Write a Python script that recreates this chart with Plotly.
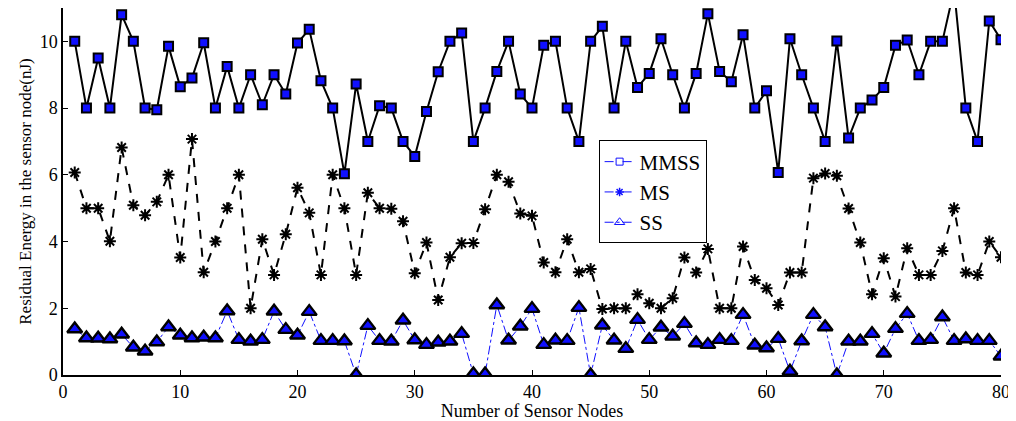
import plotly.graph_objects as go

nodes = list(range(1, 81))

mmss = [10.0, 8.0, 9.5, 8.0, 10.8, 10.0, 8.0, 7.95, 9.85, 8.64,
        8.9, 9.96, 8.0, 9.25, 8.0, 9.0, 8.1, 9.0, 8.42, 9.95,
        10.36, 8.82, 8.0, 6.03, 8.72, 7.0, 8.07, 8.0, 7.0, 6.55,
        7.9, 9.09, 10.0, 10.25, 7.0, 8.0, 9.1, 10.0, 8.42, 8.0,
        9.88, 10.0, 8.0, 7.0, 10.0, 10.45, 8.0, 10.0, 8.62, 9.04,
        10.08, 9.0, 8.0, 9.04, 10.83, 9.1, 8.79, 10.2, 8.0, 8.52,
        6.07, 10.08, 9.0, 8.0, 7.0, 10.01, 7.1, 8.0, 8.24, 8.62,
        9.88, 10.04, 9.0, 10.0, 10.0, 11.55, 8.0, 7.0, 10.61, 10.05]

ms = [6.07, 5.0, 5.0, 4.01, 6.82, 5.09, 4.79, 5.19, 6.0, 3.52,
      7.07, 3.08, 4.0, 5.0, 6.0, 2.0, 4.07, 3.0, 4.22, 5.61,
      4.86, 3.0, 6.0, 5.0, 3.0, 5.46, 5.0, 4.98, 4.61, 3.05,
      3.97, 2.25, 3.53, 3.95, 3.96, 4.97, 6.0, 5.79, 4.84, 4.77,
      3.37, 3.08, 4.07, 3.08, 3.18, 1.98, 2.0, 2.0, 2.42, 2.15,
      2.0, 2.3, 3.52, 3.07, 3.78, 2.0, 2.0, 3.85, 2.85, 2.6,
      2.1, 3.07, 3.07, 5.9, 6.04, 5.97, 4.99, 3.97, 2.42, 3.5,
      2.35, 3.8, 3.0, 3.0, 3.72, 5.0, 3.07, 3.0, 4.0, 3.53]

ss = [1.38, 1.11, 1.1, 1.08, 1.22, 0.83, 0.71, 0.99, 1.44, 1.19,
      1.11, 1.13, 1.11, 1.92, 1.06, 1.01, 1.06, 1.91, 1.36, 1.19,
      1.9, 1.03, 1.03, 1.02, 0.0, 1.48, 1.03, 1.01, 1.64, 1.05,
      0.91, 0.98, 1.01, 1.24, 0.03, 0.03, 2.1, 1.04, 1.46, 1.99,
      0.91, 1.04, 1.03, 2.02, 0.0, 1.49, 1.04, 0.79, 1.66, 1.06,
      1.43, 1.16, 1.54, 0.96, 0.91, 1.06, 1.03, 1.81, 0.89, 0.81,
      1.09, 0.11, 1.02, 1.81, 1.44, 0.0, 1.01, 1.01, 1.24, 0.65,
      1.39, 1.84, 1.03, 1.06, 1.74, 1.03, 1.08, 1.03, 1.03, 0.56]

x_ticks = [0, 10, 20, 30, 40, 50, 60, 70, 80]
y_ticks = [0, 2, 4, 6, 8, 10]

FONT = "serif"
BLUE = "#1010ff"

fig = go.Figure()

fig.add_trace(go.Scatter(
    x=nodes, y=ss, mode="lines+markers", showlegend=False,
    line=dict(color=BLUE, width=1, dash="dashdot"),
    marker=dict(symbol="triangle-up", size=13, color=BLUE,
                line=dict(color="black", width=2.4)),
))
fig.add_trace(go.Scatter(
    x=nodes, y=ms, mode="lines+markers", showlegend=False,
    line=dict(color="black", width=2, dash="dash"),
    marker=dict(symbol="asterisk-open", size=10,
                line=dict(color="black", width=2)),
))
fig.add_trace(go.Scatter(
    x=nodes, y=mmss, mode="lines+markers", showlegend=False,
    line=dict(color="black", width=2),
    marker=dict(symbol="square", size=9, color=BLUE,
                line=dict(color="black", width=2)),
))

# legend-only entries (blue styled as in the reference legend)
fig.add_trace(go.Scatter(
    x=[None], y=[None], mode="lines+markers", name="MMSS",
    line=dict(color=BLUE, width=1, dash="dash"),
    marker=dict(symbol="square-open", size=7, color=BLUE,
                line=dict(color=BLUE, width=1)),
))
fig.add_trace(go.Scatter(
    x=[None], y=[None], mode="lines+markers", name="MS",
    line=dict(color=BLUE, width=1, dash="dash"),
    marker=dict(symbol="asterisk-open", size=7,
                line=dict(color=BLUE, width=1.5)),
))
fig.add_trace(go.Scatter(
    x=[None], y=[None], mode="lines+markers", name="SS",
    line=dict(color=BLUE, width=1, dash="dashdot"),
    marker=dict(symbol="triangle-up-open", size=9, color=BLUE,
                line=dict(color=BLUE, width=1)),
))

fig.update_layout(
    width=1008, height=413,
    margin=dict(l=55, r=15, t=0, b=46),
    paper_bgcolor="white", plot_bgcolor="white",
    font=dict(family=FONT, size=16, color="black"),
    legend=dict(
        x=0.571, y=0.639, xanchor="left", yanchor="top",
        bgcolor="white", bordercolor="black", borderwidth=1,
        font=dict(family=FONT, size=21, color="black"),
        tracegroupgap=0, itemwidth=30,
    ),
)

fig.update_xaxes(
    range=[0, 80], tickvals=x_ticks,
    showgrid=False, zeroline=False,
    showline=True, linecolor="black", linewidth=1.5,
    ticks="inside", ticklen=5, tickcolor="black",
    tickfont=dict(family=FONT, size=18),
    title=dict(text="Number of Sensor Nodes", font=dict(family=FONT, size=18), standoff=0),
)
fig.update_yaxes(
    range=[0, 11], tickvals=y_ticks,
    showgrid=False, zeroline=False,
    showline=True, linecolor="black", linewidth=1.5,
    ticks="inside", ticklen=5, tickcolor="black",
    tickfont=dict(family=FONT, size=18),
    title=dict(text="Residual Energy in the sensor node(nJ)", font=dict(family=FONT, size=17), standoff=4),
)

fig.write_html("out.html")
